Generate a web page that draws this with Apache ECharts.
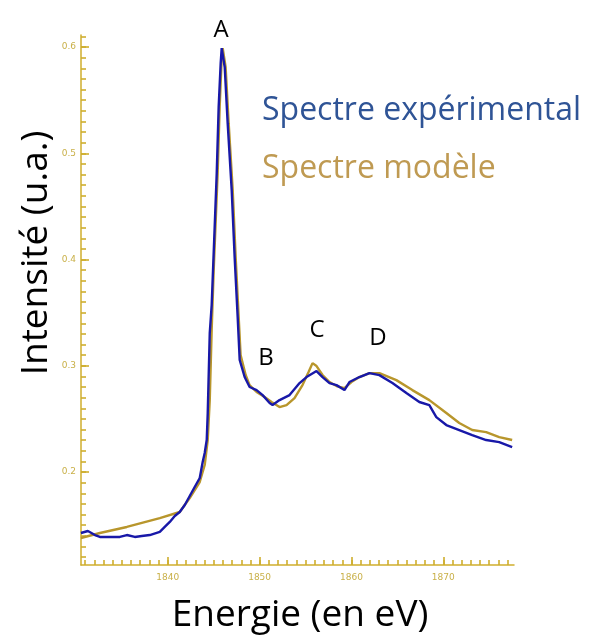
<!DOCTYPE html>
<html><head><meta charset="utf-8">
<script src="https://cdn.jsdelivr.net/npm/echarts@6/dist/echarts.min.js"></script>
<style>html,body{margin:0;padding:0;background:#fff}#c{width:595px;height:639px}</style>
</head><body><div id="c"></div>
<script>
// Experimental spectrum (energy eV, intensity a.u.)
const expEnergy = [1830.54,1831.30,1832.07,1832.61,1833.70,1834.78,1835.54,1836.41,1837.17,1838.04,1839.13,1839.67,1840.22,1840.76,1841.30,1841.85,1842.39,1842.93,1843.48,1843.80,1844.02,1844.24,1844.35,1844.57,1844.78,1845.33,1845.54,1845.76,1845.87,1846.20,1846.52,1846.96,1847.28,1847.61,1847.83,1848.37,1848.91,1849.67,1850.33,1851.09,1851.41,1852.17,1853.26,1854.35,1855.11,1856.20,1856.85,1857.61,1858.37,1859.24,1859.78,1860.87,1861.96,1863.04,1864.46,1865.98,1867.39,1868.48,1869.24,1870.33,1871.74,1873.15,1874.67,1876.09,1877.50];
const expIntensity = [0.1426,0.1445,0.1407,0.1389,0.1389,0.1389,0.1407,0.1389,0.1398,0.1407,0.1436,0.1483,0.1530,0.1586,0.1624,0.1690,0.1774,0.1859,0.1944,0.2094,0.2179,0.2301,0.2555,0.3308,0.3570,0.4813,0.5434,0.5848,0.5989,0.5810,0.5283,0.4653,0.4023,0.3458,0.3054,0.2894,0.2800,0.2771,0.2724,0.2649,0.2630,0.2677,0.2724,0.2837,0.2894,0.2950,0.2894,0.2837,0.2818,0.2771,0.2847,0.2894,0.2931,0.2912,0.2837,0.2743,0.2659,0.2630,0.2517,0.2442,0.2395,0.2348,0.2301,0.2282,0.2235];
// Model spectrum
const modEnergy = [1830.54,1832.61,1835.54,1839.13,1841.30,1842.39,1843.48,1844.02,1844.35,1844.57,1844.78,1845.00,1845.43,1845.65,1845.87,1845.98,1846.30,1846.63,1847.07,1847.39,1847.72,1847.93,1848.48,1848.91,1849.67,1850.54,1851.30,1852.17,1852.93,1853.80,1854.67,1855.33,1855.76,1856.20,1856.85,1857.61,1858.37,1859.24,1860.00,1860.87,1861.96,1863.04,1864.89,1866.63,1868.48,1870.33,1871.74,1873.15,1874.67,1876.09,1877.50];
const modIntensity = [0.1379,0.1426,0.1483,0.1567,0.1624,0.1755,0.1906,0.2066,0.2301,0.2677,0.3336,0.3900,0.4813,0.5434,0.5895,0.5989,0.5810,0.5283,0.4653,0.4023,0.3458,0.3101,0.2913,0.2818,0.2753,0.2706,0.2659,0.2611,0.2630,0.2696,0.2818,0.2941,0.3025,0.2997,0.2913,0.2847,0.2809,0.2790,0.2847,0.2894,0.2931,0.2931,0.2865,0.2771,0.2677,0.2555,0.2461,0.2395,0.2376,0.2329,0.2301];
// Axis ticks
const xMajorTicks = [1840,1850,1860,1870];
const yMajorTicks = [0.2,0.3,0.4,0.5,0.6];
const xMinorRange = [1831, 1877];
const yMinorRange = [0.12, 0.61];
const xRange = [1830.55, 1877.7];
const yRange = [0.1125, 0.6113];
const peakLabels = ['A','B','C','D'];
const legendNames = ['Spectre expérimental','Spectre modèle'];

const axisCol = '#cfae2e';
const labCol = '#c9b048';
const font = 'Open Sans';
const peakPos = [[221,30],[266,358],[317,330],[378,338]];

// main plot box in px
const G = {left:81, right:81, top:35, bottom:74, W:595, H:639};
const plotW = G.W - G.left - G.right, plotH = G.H - G.top - G.bottom;
const pxE = plotW / (xRange[1] - xRange[0]);
const pxI = plotH / (yRange[1] - yRange[0]);
// tick grids whose extents sit on whole tick values, aligned with the main axes
function xGrid(a, b) { return {left: G.left + (a - xRange[0]) * pxE, width: (b - a) * pxE, top: G.top, bottom: G.bottom}; }
function yGrid(a, b) { return {left: G.left, right: G.right, top: G.top + (yRange[1] - b) * pxI, height: (b - a) * pxI}; }

const xMaj = [xMajorTicks[0], xMajorTicks[xMajorTicks.length-1]];
const yMaj = [yMajorTicks[0], yMajorTicks[yMajorTicks.length-1]];
const hidden = (i) => ({gridIndex:i, type:'value', show:false});

const chart = echarts.init(document.getElementById('c'), null, {renderer:'canvas'});
chart.setOption({
  animation:false,
  grid:[
    {left:G.left,right:G.right,top:G.top,bottom:G.bottom},
    xGrid(xMinorRange[0], xMinorRange[1]),
    xGrid(xMaj[0], xMaj[1]),
    yGrid(yMinorRange[0], yMinorRange[1]),
    yGrid(yMaj[0], yMaj[1])
  ],
  xAxis:[
    {gridIndex:0,type:'value',min:xRange[0],max:xRange[1],splitLine:{show:false},
     axisLine:{show:true,lineStyle:{color:axisCol,width:1.5}},axisTick:{show:false},axisLabel:{show:false}},
    {gridIndex:1,type:'value',min:xMinorRange[0],max:xMinorRange[1],interval:1,splitLine:{show:false},
     axisLine:{show:false},axisLabel:{show:false},
     axisTick:{show:true,inside:true,length:5,lineStyle:{color:axisCol,width:1.6}}},
    {gridIndex:2,type:'value',min:xMaj[0],max:xMaj[1],interval:10,splitLine:{show:false},
     axisLine:{show:false},
     axisTick:{show:true,inside:true,length:8,lineStyle:{color:axisCol,width:1.6}},
     axisLabel:{show:true,color:labCol,fontSize:9,margin:8,fontFamily:'DejaVu Sans',formatter:v=>String(v)}},
    hidden(3), hidden(4)
  ],
  yAxis:[
    {gridIndex:0,type:'value',min:yRange[0],max:yRange[1],splitLine:{show:false},
     axisLine:{show:true,lineStyle:{color:axisCol,width:1.5}},axisTick:{show:false},axisLabel:{show:false}},
    hidden(1), hidden(2),
    {gridIndex:3,type:'value',min:yMinorRange[0],max:yMinorRange[1],interval:0.01,splitLine:{show:false},
     axisLine:{show:false},axisLabel:{show:false},
     axisTick:{show:true,inside:true,length:5,lineStyle:{color:axisCol,width:1.6}}},
    {gridIndex:4,type:'value',min:yMaj[0],max:yMaj[1],interval:0.1,splitLine:{show:false},
     axisLine:{show:false},
     axisTick:{show:true,inside:true,length:8,lineStyle:{color:axisCol,width:1.6}},
     axisLabel:{show:true,color:labCol,fontSize:9,margin:5,fontFamily:'DejaVu Sans',formatter:v=>v.toFixed(1)}}
  ],
  series:[
    {name:legendNames[1],type:'line',xAxisIndex:0,yAxisIndex:0,showSymbol:false,data:modEnergy.map((e,i)=>[e,modIntensity[i]]),
     lineStyle:{color:'#b8962c',width:2.4},z:2},
    {name:legendNames[0],type:'line',xAxisIndex:0,yAxisIndex:0,showSymbol:false,data:expEnergy.map((e,i)=>[e,expIntensity[i]]),
     lineStyle:{color:'#1818a8',width:2.4},z:3}
  ],
  graphic:[
    {type:'text',x:262,y:111,style:{text:legendNames[0],fill:'#2f5496',font:'32px "'+font+'"',verticalAlign:'middle'}},
    {type:'text',x:262,y:169,style:{text:legendNames[1],fill:'#bf9a52',font:'32px "'+font+'"',verticalAlign:'middle'}},
    ...peakLabels.map((t,i)=>({type:'text',x:peakPos[i][0],y:peakPos[i][1],style:{text:t,fill:'#000',font:'24px "'+font+'"',align:'center',verticalAlign:'middle'}})),
    {type:'text',x:300,y:615,style:{text:'Energie (en eV)',fill:'#000',font:'37px "'+font+'"',align:'center',verticalAlign:'middle'}},
    {type:'text',x:36,y:253,rotation:Math.PI/2,style:{text:'Intensité (u.a.)',fill:'#000',font:'37px "'+font+'"',align:'center',verticalAlign:'middle'}}
  ]
});
</script></body></html>
